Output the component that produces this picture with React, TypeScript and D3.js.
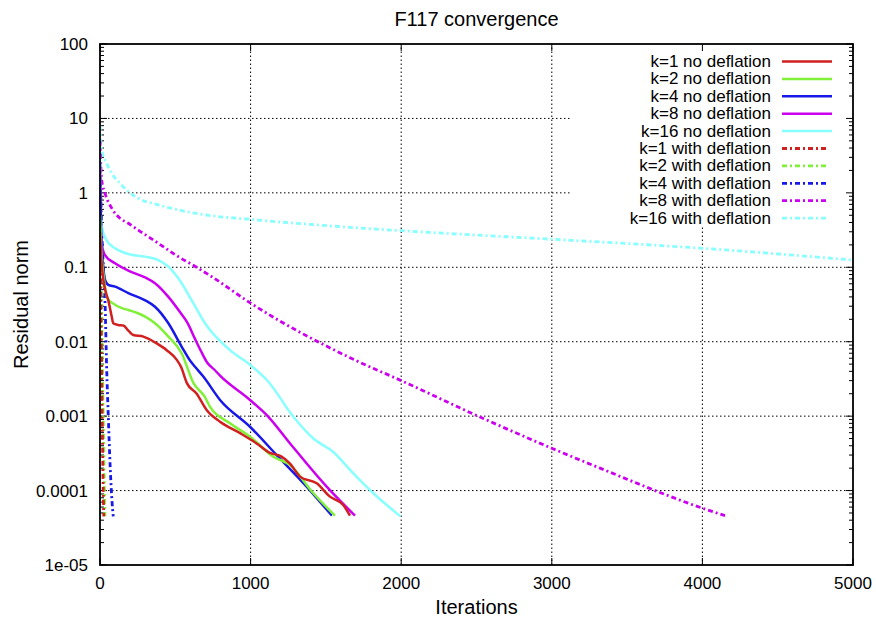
import React, { useEffect, useRef } from 'react';
import * as d3 from 'd3';

type Pt = [number, number];

// [iteration, residual norm]
const k1NoDeflation: Pt[] = [
    [0, 0.3], [10, 0.12], [22, 0.068], [40, 0.045], [55, 0.036], [78, 0.0217], [88, 0.0177],
    [120, 0.0168], [155, 0.0165], [190, 0.014], [221, 0.0123], [288, 0.0117], [376, 0.0095],
    [443, 0.0077], [510, 0.0057], [540, 0.0045], [576, 0.0028], [642, 0.002], [708, 0.00121],
    [797, 0.00084], [930, 0.00059], [1040, 0.00043], [1129, 0.00032], [1200, 0.00029],
    [1262, 0.00023], [1328, 0.000154], [1439, 0.000125], [1527, 0.000083], [1615, 0.000064],
    [1660, 0.000046]
];
const k2NoDeflation: Pt[] = [
    [0, 0.5], [10, 0.15], [22, 0.083], [33, 0.055], [50, 0.038], [83, 0.033], [150, 0.028],
    [188, 0.0267], [300, 0.0217], [365, 0.0177], [454, 0.0117], [542, 0.007], [620, 0.0028],
    [697, 0.0018], [730, 0.00134], [863, 0.0008], [996, 0.00053], [1151, 0.000285],
    [1262, 0.00022], [1417, 0.000092], [1560, 0.000046]
];
const k4NoDeflation: Pt[] = [
    [0, 1.5], [8, 0.25], [22, 0.1], [33, 0.068], [55, 0.058], [100, 0.055], [188, 0.045],
    [300, 0.036], [365, 0.0295], [454, 0.0177], [542, 0.0086], [600, 0.0055], [631, 0.0046],
    [686, 0.0034], [797, 0.00165], [996, 0.00072], [1173, 0.0003], [1372, 0.000113],
    [1540, 0.000046]
];
const k8NoDeflation: Pt[] = [
    [0, 2], [5, 0.35], [11, 0.21], [33, 0.146], [100, 0.113], [188, 0.09], [299, 0.073],
    [365, 0.061], [454, 0.04], [531, 0.025], [580, 0.018], [630, 0.011], [670, 0.0075],
    [710, 0.0053], [760, 0.0042], [797, 0.0035], [996, 0.00165], [1118, 0.00098],
    [1262, 0.00043], [1505, 0.000113], [1693, 0.000046]
];
const k16NoDeflation: Pt[] = [
    [0, 3], [3, 0.6], [11, 0.35], [44, 0.23], [100, 0.18], [188, 0.151], [299, 0.139],
    [387, 0.125], [454, 0.102], [520, 0.071], [609, 0.036], [697, 0.0177], [863, 0.0077],
    [996, 0.0049], [1118, 0.0029], [1284, 0.00098], [1417, 0.0005], [1549, 0.00033],
    [1682, 0.00017], [1815, 0.000092], [1995, 0.000045]
];
const k1WithDeflation: Pt[] = [
    [0, 0.35], [5, 0.05], [10, 0.006], [15, 0.0009], [20, 0.00015], [25, 0.000045]
];
const k2WithDeflation: Pt[] = [
    [0, 0.8], [8, 0.06], [15, 0.006], [22, 0.0008], [28, 0.00015], [33, 0.000045]
];
const k4WithDeflation: Pt[] = [
    [0, 2.5], [12, 0.3], [25, 0.08], [33, 0.036], [44, 0.0046], [55, 0.001], [68, 0.0002],
    [80, 0.00007], [88, 0.000045]
];
const k8WithDeflation: Pt[] = [
    [0, 5], [11, 1.49], [33, 0.99], [78, 0.62], [133, 0.455], [188, 0.39], [254, 0.316],
    [321, 0.258], [387, 0.21], [520, 0.139], [642, 0.1], [741, 0.075], [1000, 0.033],
    [1660, 0.0061], [2000, 0.003], [2545, 0.00093], [3000, 0.00037], [3320, 0.0002],
    [4000, 0.000058], [4150, 0.000046]
];
const k16WithDeflation: Pt[] = [
    [0, 8], [11, 3.77], [44, 2.5], [78, 1.83], [133, 1.34], [188, 1.04], [254, 0.845],
    [387, 0.69], [520, 0.59], [719, 0.5], [1000, 0.44], [1660, 0.344], [2000, 0.31],
    [3000, 0.238], [4000, 0.18], [5000, 0.125]
];

const seriesLabels = [
    'k=1 no deflation', 'k=2 no deflation', 'k=4 no deflation', 'k=8 no deflation',
    'k=16 no deflation', 'k=1 with deflation', 'k=2 with deflation', 'k=4 with deflation',
    'k=8 with deflation', 'k=16 with deflation'
];
const seriesData = [
    k1NoDeflation, k2NoDeflation, k4NoDeflation, k8NoDeflation, k16NoDeflation,
    k1WithDeflation, k2WithDeflation, k4WithDeflation, k8WithDeflation, k16WithDeflation
];

const xTicks = [0, 1000, 2000, 3000, 4000, 5000];
const yTicks = [100, 10, 1, 0.1, 0.01, 0.001, 0.0001, 0.00001];
const yTickLabels = ['100', '10', '1', '0.1', '0.01', '0.001', '0.0001', '1e-05'];

const palette = ['#d02020', '#80f038', '#1818e8', '#cc00ee', '#88ffff'];

const Chart: React.FC = () => {
    const svgRef = useRef<SVGSVGElement>(null);

    useEffect(() => {
        if (!svgRef.current) return;
        const width = 876;
        const height = 620;
        const margin = { top: 44, right: 23, bottom: 55, left: 100 };
        const font = 'Liberation Sans, Arial, sans-serif';
        const dash = '5,3,2,3';

        const svg = d3.select(svgRef.current);
        svg.selectAll('*').remove();
        svg.attr('width', width).attr('height', height).attr('viewBox', `0 0 ${width} ${height}`);

        svg.append('rect').attr('width', width).attr('height', height).attr('fill', '#fff');

        const x = d3.scaleLinear().domain([0, 5000]).range([margin.left, width - margin.right]);
        const y = d3.scaleLog().domain([1e-5, 100]).range([height - margin.bottom, margin.top]);
        const [x0, x1] = x.range();
        const [y0, y1] = y.range();

        // key area: grid lines are not drawn under it
        const keyLeft = 571;
        const keyBottom = 227;

        const grid = svg.append('g')
            .attr('stroke', '#000')
            .attr('stroke-width', 1)
            .attr('stroke-dasharray', '1.5,2.5');

        yTicks.slice(1, -1).forEach(v => {
            const py = y(v);
            grid.append('line')
                .attr('x1', x0).attr('x2', py < keyBottom ? keyLeft : x1)
                .attr('y1', py).attr('y2', py);
        });
        xTicks.slice(1, -1).forEach(v => {
            const px = x(v);
            grid.append('line')
                .attr('x1', px).attr('x2', px)
                .attr('y1', y0).attr('y2', px > keyLeft ? keyBottom : y1);
        });

        // tick marks (inward, mirrored)
        const ticks = svg.append('g').attr('stroke', '#000').attr('stroke-width', 1);
        const majorLen = 7;
        const minorLen = 4;
        xTicks.forEach(v => {
            const px = x(v);
            ticks.append('line').attr('x1', px).attr('x2', px).attr('y1', y0).attr('y2', y0 - majorLen);
            ticks.append('line').attr('x1', px).attr('x2', px).attr('y1', y1).attr('y2', y1 + majorLen);
        });
        yTicks.forEach(v => {
            const py = y(v);
            ticks.append('line').attr('x1', x0).attr('x2', x0 + majorLen).attr('y1', py).attr('y2', py);
            ticks.append('line').attr('x1', x1).attr('x2', x1 - majorLen).attr('y1', py).attr('y2', py);
        });
        d3.range(-5, 2).forEach(e => {
            d3.range(2, 10).forEach(m => {
                const py = y(m * Math.pow(10, e));
                ticks.append('line').attr('x1', x0).attr('x2', x0 + minorLen).attr('y1', py).attr('y2', py);
                ticks.append('line').attr('x1', x1).attr('x2', x1 - minorLen).attr('y1', py).attr('y2', py);
            });
        });

        // tick labels
        svg.append('g')
            .selectAll('text')
            .data(xTicks)
            .enter()
            .append('text')
            .attr('x', d => x(d))
            .attr('y', y0 + 24)
            .attr('text-anchor', 'middle')
            .attr('font-family', font)
            .attr('font-size', '17px')
            .attr('fill', '#000')
            .text(d => String(d));

        svg.append('g')
            .selectAll('text')
            .data(yTicks)
            .enter()
            .append('text')
            .attr('x', x0 - 12)
            .attr('y', d => y(d) + 6)
            .attr('text-anchor', 'end')
            .attr('font-family', font)
            .attr('font-size', '17px')
            .attr('fill', '#000')
            .text((d, i) => yTickLabels[i]);

        // series
        const clipId = 'plot-clip';
        svg.append('defs').append('clipPath').attr('id', clipId)
            .append('rect')
            .attr('x', x0).attr('y', y1)
            .attr('width', x1 - x0).attr('height', y0 - y1);

        const line = d3.line<Pt>()
            .x(d => x(d[0]))
            .y(d => y(d[1]))
            .curve(d3.curveMonotoneX);

        const plot = svg.append('g').attr('clip-path', `url(#${clipId})`);
        // draw dotted ones first, solid on top
        const order = [9, 8, 7, 6, 5, 4, 3, 2, 1, 0];
        order.forEach(i => {
            const dashed = i >= 5;
            plot.append('path')
                .datum(seriesData[i])
                .attr('d', line)
                .attr('fill', 'none')
                .attr('stroke', palette[i % 5])
                .attr('stroke-width', dashed ? 2.8 : 2.5)
                .attr('stroke-dasharray', dashed ? dash : null)
                .attr('stroke-linejoin', 'round');
        });

        // border
        svg.append('rect')
            .attr('x', x0).attr('y', y1)
            .attr('width', x1 - x0).attr('height', y0 - y1)
            .attr('fill', 'none')
            .attr('stroke', '#000')
            .attr('stroke-width', 1.8);

        // legend
        const legend = svg.append('g');
        seriesLabels.forEach((label, i) => {
            const base = 67 + i * 17.4;
            legend.append('text')
                .attr('x', 771)
                .attr('y', base)
                .attr('text-anchor', 'end')
                .attr('font-family', font)
                .attr('font-size', '17px')
                .attr('fill', '#000')
                .text(label);
            const dashed = i >= 5;
            legend.append('line')
                .attr('x1', 782).attr('x2', dashed ? 829 : 832)
                .attr('y1', base - 5.5).attr('y2', base - 5.5)
                .attr('stroke', palette[i % 5])
                .attr('stroke-width', dashed ? 2.8 : 2.5)
                .attr('stroke-dasharray', dashed ? dash : null);
        });

        // titles
        svg.append('text')
            .attr('x', (x0 + x1) / 2)
            .attr('y', 26)
            .attr('text-anchor', 'middle')
            .attr('font-family', font)
            .attr('font-size', '20px')
            .attr('fill', '#000')
            .text('F117 convergence');

        svg.append('text')
            .attr('x', (x0 + x1) / 2)
            .attr('y', 614)
            .attr('text-anchor', 'middle')
            .attr('font-family', font)
            .attr('font-size', '20px')
            .attr('fill', '#000')
            .text('Iterations');

        svg.append('text')
            .attr('transform', `translate(28, ${(y0 + y1) / 2}) rotate(-90)`)
            .attr('text-anchor', 'middle')
            .attr('font-family', font)
            .attr('font-size', '20px')
            .attr('fill', '#000')
            .text('Residual norm');
    }, []);

    return <svg ref={svgRef} style={{ position: 'absolute', left: 0, top: 0 }}></svg>;
};

export default function App() {
    return <Chart />;
}
